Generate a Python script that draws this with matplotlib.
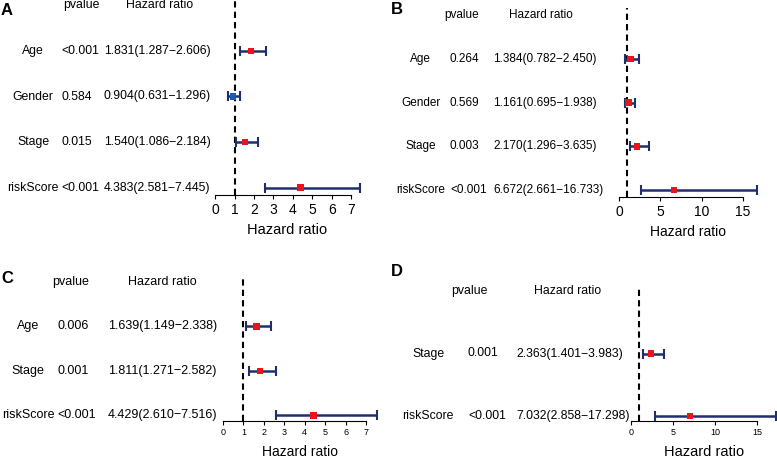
import matplotlib.pyplot as plt
from matplotlib.transforms import blended_transform_factory

plt.rcParams['font.family'] = ['Liberation Sans', 'DejaVu Sans']

# panel A
A_vars = ["Age", "Gender", "Stage", "riskScore"]
A_pval = ["<0.001", "0.584", "0.015", "<0.001"]
A_hr = [1.831, 0.904, 1.540, 4.383]
A_low = [1.287, 0.631, 1.086, 2.581]
A_high = [2.606, 1.296, 2.184, 7.445]
A_ticks = [0, 1, 2, 3, 4, 5, 6, 7]

# panel B
B_vars = ["Age", "Gender", "Stage", "riskScore"]
B_pval = ["0.264", "0.569", "0.003", "<0.001"]
B_hr = [1.384, 1.161, 2.170, 6.672]
B_low = [0.782, 0.695, 1.296, 2.661]
B_high = [2.450, 1.938, 3.635, 16.733]
B_ticks = [0, 5, 10, 15]

# panel C
C_vars = ["Age", "Stage", "riskScore"]
C_pval = ["0.006", "0.001", "<0.001"]
C_hr = [1.639, 1.811, 4.429]
C_low = [1.149, 1.271, 2.610]
C_high = [2.338, 2.582, 7.516]
C_ticks = [0, 1, 2, 3, 4, 5, 6, 7]

# panel D
D_vars = ["Stage", "riskScore"]
D_pval = ["0.001", "<0.001"]
D_hr = [2.363, 7.032]
D_low = [1.401, 2.858]
D_high = [3.983, 17.298]
D_ticks = [0, 5, 10, 15]

W, H = 777, 458
fig = plt.figure(figsize=(W / 100, H / 100), dpi=100)

BAR_COL = "#1f2f6e"


def forest(letter, letter_xy, box, cols, head_cols, names, pvals, hr, low, high,
           ticks, fs, tick_fs, lab_fs, tick_pad, lab_pad):
    x0, x1, ytop, ybot = box
    ax = fig.add_axes([x0 / W, 1 - ybot / H, (x1 - x0) / W, (ybot - ytop) / H])
    n = len(names)
    ys = list(range(n, 0, -1))
    ax.set_xlim(0, max(high))
    ax.set_ylim(1 - 0.04 * n, n + 1 + 0.04 * n)

    ax.axvline(1, color="black", lw=1.5, ls=(0, (3, 2)), zorder=1)
    xerr = [[h - l for h, l in zip(hr, low)], [u - h for h, u in zip(hr, high)]]
    ax.errorbar(hr, ys, xerr=xerr, fmt="none", ecolor=BAR_COL, elinewidth=1.8,
                capsize=3.5, capthick=1.5, zorder=2, clip_on=False)
    colors = ["#e8141b" if v > 1 else "#1a5bb5" for v in hr]
    ax.scatter(hr, ys, marker="s", s=22, c=colors, zorder=3, linewidths=0, clip_on=False)

    for s in ["top", "right", "left"]:
        ax.spines[s].set_visible(False)
    ax.spines["bottom"].set_bounds(ticks[0], ticks[-1])
    ax.set_xticks(ticks)
    ax.set_yticks([])
    ax.tick_params(axis="x", length=3, width=0.8, labelsize=tick_fs, pad=tick_pad)
    ax.set_xlabel("Hazard ratio", fontsize=lab_fs, labelpad=lab_pad)
    ax.patch.set_visible(False)

    # name column centred, pvalue / HR columns left aligned
    tr = blended_transform_factory(fig.transFigure, ax.transData)
    hr_txt = [f"{h:.3f}({l:.3f}\u2212{u:.3f})" for h, l, u in zip(hr, low, high)]
    for y, nm, p, t in zip(ys, names, pvals, hr_txt):
        ax.text(cols[0] / W, y, nm, transform=tr, ha="center", va="center", fontsize=fs)
        ax.text(cols[1] / W, y, p, transform=tr, ha="left", va="center", fontsize=fs)
        ax.text(cols[2] / W, y, t, transform=tr, ha="left", va="center", fontsize=fs)
    ax.text(head_cols[0] / W, n + 1, "pvalue", transform=tr, ha="center", va="center", fontsize=fs)
    ax.text(head_cols[1] / W, n + 1, "Hazard ratio", transform=tr, ha="center", va="center", fontsize=fs)

    fig.text(letter_xy[0] / W, 1 - letter_xy[1] / H, letter, fontsize=12,
             fontweight="bold", ha="left", va="top")


forest("A", (1, 3), (215.3, 359.7, -2, 195), (33, 61, 104), (81, 160),
       A_vars, A_pval, A_hr, A_low, A_high, A_ticks, 8.8, 10, 10.5, 3, 4)
forest("B", (391, 2), (619, 757.4, 8.3, 197), (420.5, 450, 493), (462, 541),
       B_vars, B_pval, B_hr, B_low, B_high, B_ticks, 8.5, 10, 10, 3, 4)
forest("C", (1, 271), (223, 376.6, 276.7, 420.7), (28, 57, 108), (71, 162),
       C_vars, C_pval, C_hr, C_low, C_high, C_ticks, 9, 6.5, 10, 2, 6)
forest("D", (391, 264), (631, 776.3, 286, 421), (428, 468, 516), (469, 568),
       D_vars, D_pval, D_hr, D_low, D_high, D_ticks, 8.8, 6.5, 10.5, 2, 6)

fig.savefig("out.png", dpi=100)
